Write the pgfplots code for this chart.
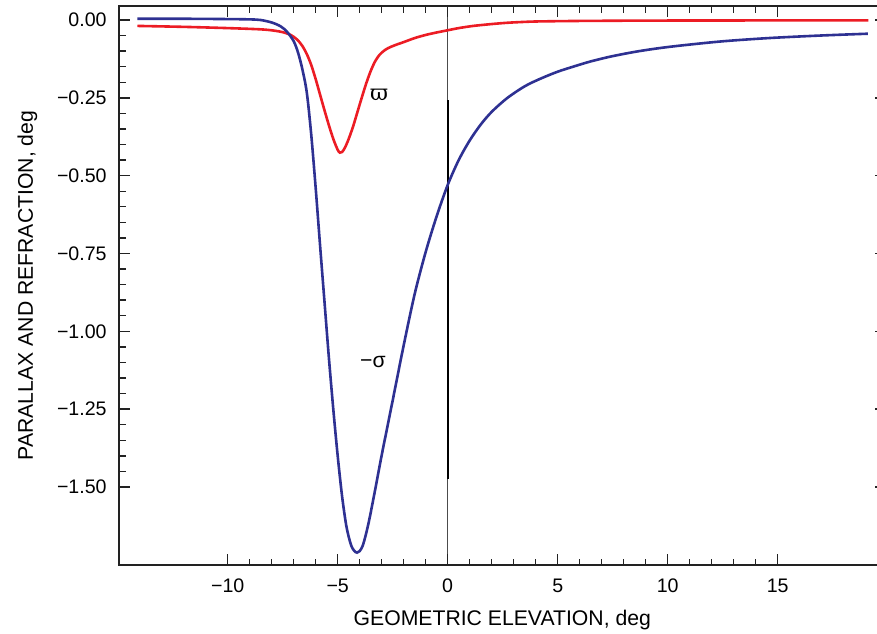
\documentclass[border=0pt]{standalone}
\usepackage{fontspec}
\setmainfont{Liberation Sans}
\newfontfamily\greekserif{DejaVu Serif}
\usepackage{pgfplots}
\pgfplotsset{compat=1.18}
\definecolor{sigblue}{HTML}{2E3192}
\definecolor{parred}{HTML}{EC1C24}
\definecolor{axgray}{HTML}{222222}

\begin{document}
\begin{tikzpicture}
\begin{axis}[
    scale only axis,
    width=383.25pt, height=279.5pt,
    xmin=-14.94, xmax=19.9,
    ymin=-1.7507, ymax=0.045,
    axis on top,
    axis line style={draw=axgray, line width=1.2pt},
    xtick={-10,-5,0,5,10,15},
    xticklabels={−10,−5,0,5,10,15},
    ytick={0,-0.25,-0.5,-0.75,-1,-1.25,-1.5},
    yticklabels={0.00,−0.25,−0.50,−0.75,−1.00,−1.25,−1.50},
    minor x tick num=4, minor y tick num=4,
    xtick pos=both, ytick pos=both,
    tick align=inside,
    major tick length=5.5pt, minor tick length=3.25pt,
    tick style={axgray, line width=0.7pt},
    tick label style={font=\fontsize{9.8}{12}\selectfont, inner sep=0pt},
    xticklabel style={anchor=base, yshift=-13.5pt},
    yticklabel style={anchor=east, xshift=-6pt},
    label style={font=\fontsize{10.6}{12}\selectfont},
    xlabel={GEOMETRIC ELEVATION, deg},
    ylabel={PARALLAX AND REFRACTION, deg},
    xlabel style={at={([yshift=-30pt]axis description cs:0.5,0)}, anchor=base},
    ylabel style={at={([xshift=-43pt]axis description cs:0,0.5)}, anchor=base},
]
% horizon line
\addplot[gray!60!black, line width=0.5pt] coordinates {(0,-1.7507) (0,0.045)};
\addplot[black, line width=1pt] coordinates {(0,-0.257) (0,-1.475)};

% parallax
\addplot[parred, line width=1.3pt, smooth] coordinates {
(-14.1,-0.019) (-12,-0.022) (-10,-0.026) (-8.5,-0.030) (-7.9,-0.034)
(-7.5,-0.039) (-7.2,-0.046) (-7.0,-0.054) (-6.8,-0.066) (-6.6,-0.084)
(-6.4,-0.110) (-6.2,-0.145) (-6.0,-0.190) (-5.8,-0.240) (-5.6,-0.290)
(-5.4,-0.338) (-5.2,-0.382) (-5.0,-0.417) (-4.9,-0.426) (-4.8,-0.424)
(-4.67,-0.410) (-4.5,-0.382) (-4.3,-0.342) (-4.1,-0.295) (-3.9,-0.248)
(-3.7,-0.203) (-3.5,-0.164) (-3.3,-0.133) (-3.1,-0.112) (-2.9,-0.099)
(-2.7,-0.090) (-2.4,-0.081) (-2.0,-0.071) (-1.5,-0.058) (-1.0,-0.048)
(-0.5,-0.040) (0,-0.033) (0.5,-0.026) (1.16,-0.019) (2.0,-0.013)
(2.68,-0.009) (3.5,-0.006) (4.2,-0.0045) (6,-0.003) (8.7,-0.002)
(12,-0.0015) (19.12,-0.0012)
};

% refraction
\addplot[sigblue, line width=1.3pt, smooth] coordinates {
(-14.1,0.004) (-12,0.004) (-10,0.003) (-9,0.002) (-8.5,0.0)
(-8.0,-0.008) (-7.6,-0.020) (-7.3,-0.038) (-7.0,-0.068) (-6.8,-0.105)
(-6.6,-0.160) (-6.4,-0.235) (-6.2,-0.370) (-6.0,-0.540) (-5.8,-0.725)
(-5.6,-0.905) (-5.4,-1.085) (-5.2,-1.250) (-5.0,-1.400) (-4.8,-1.530)
(-4.6,-1.628) (-4.4,-1.685) (-4.25,-1.705) (-4.12,-1.711) (-4.0,-1.706)
(-3.84,-1.684) (-3.6,-1.617) (-3.3,-1.510) (-3.0,-1.398) (-2.5,-1.222)
(-2.0,-1.045) (-1.5,-0.880) (-1.0,-0.745) (-0.5,-0.630) (0,-0.530)
(0.5,-0.450) (1.0,-0.387) (1.5,-0.336) (2.0,-0.295) (2.7,-0.251)
(3.5,-0.213) (4.2,-0.189) (5.0,-0.166) (5.7,-0.150) (6.5,-0.133)
(7.5,-0.116) (8.7,-0.100) (10.1,-0.086) (12.4,-0.069) (14.6,-0.058)
(16.9,-0.050) (19.1,-0.044)
};

\node[font=\fontsize{11}{12}\selectfont\greekserif] at (axis cs:-3.12,-0.241) {ϖ};
\node[font=\fontsize{10.6}{12}\selectfont] at (axis cs:-3.40,-1.099) {−σ};
\end{axis}
\draw[axgray, line width=1.2pt] (current axis.south west) -- (current axis.south east);
\draw[axgray, line width=1.2pt] (current axis.south west) -- (current axis.north west);
\draw[axgray, line width=1.2pt] (current axis.north west) -- (current axis.north east);
\pgfresetboundingbox
\path[use as bounding box] ([xshift=-59.5pt,yshift=-34pt]current axis.south west)
  rectangle ([xshift=379pt,yshift=3pt]current axis.north west);
\end{tikzpicture}
\end{document}
